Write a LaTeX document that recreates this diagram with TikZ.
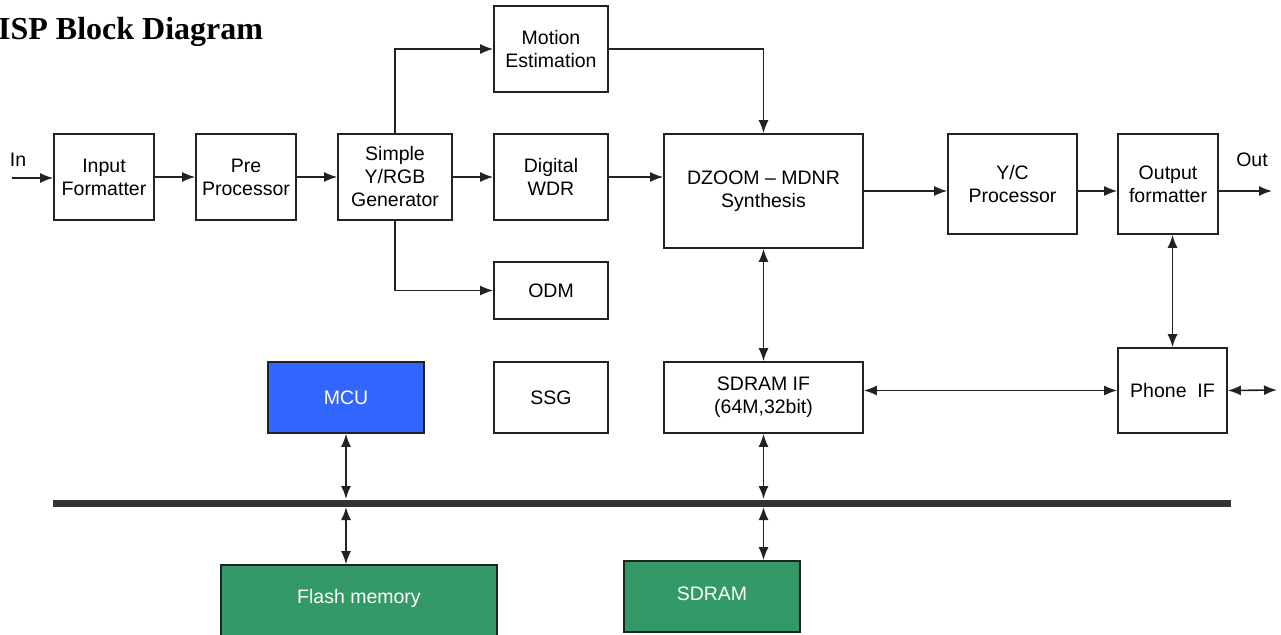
\documentclass[tikz,border=0pt]{standalone}
\usepackage{fontspec}
\setmainfont{Liberation Sans}
\newfontfamily\titlefont{Liberation Serif}
\usepackage{tikz}
\usetikzlibrary{arrows.meta,calc}
\definecolor{boxline}{HTML}{222222}
\definecolor{mcublue}{HTML}{3366FF}
\definecolor{memgreen}{HTML}{339966}
\definecolor{busgray}{HTML}{333333}
\tikzset{
  blk/.style={draw=boxline, line width=1.6pt, inner sep=0pt, align=center, font=\fontsize{19.5}{23}\selectfont},
  lab/.style={inner sep=0pt, font=\fontsize{19.5}{23}\selectfont},
  link/.style={draw=boxline, line width=1.6pt, -{Latex[length=13pt,width=10pt]}},
  dlink/.style={draw=boxline, line width=1.6pt, {Latex[length=13pt,width=10pt]}-{Latex[length=13pt,width=10pt]}},
  busline/.style={draw=busgray, line width=7pt},
}

\begin{document}
\begin{tikzpicture}[x=1pt, y=-1pt]
\useasboundingbox (0,0) rectangle (1281,634);

\node[anchor=base west, inner sep=0pt, font={\titlefont\bfseries\fontsize{32}{36}\selectfont}] (title) at (-2,40) {ISP Block Diagram};

% video path
\node[blk, minimum width=100pt, minimum height=86pt] (fmt) at (104,177) {Input\\Formatter};
\node[blk, minimum width=100pt, minimum height=86pt] (pre) at (246,177) {Pre\\Processor};
\node[blk, minimum width=114pt, minimum height=86pt] (gen) at (395,177) {Simple\\Y/RGB\\Generator};
\node[blk, minimum width=114pt, minimum height=86pt] (me)  at (551,49)  {Motion\\Estimation};
\node[blk, minimum width=114pt, minimum height=86pt] (wdr) at (551,177) {Digital\\WDR};
\node[blk, minimum width=114pt, minimum height=57pt] (odm) at (551,290.5) {ODM};
\node[blk, minimum width=199pt, minimum height=114pt] (dz) at (763.5,191) {DZOOM – MDNR\\Synthesis};
\node[blk, minimum width=129pt, minimum height=100pt] (yc) at (1012.5,184) {Y/C\\Processor};
\node[blk, minimum width=100pt, minimum height=100pt] (of) at (1168,184) {Output\\formatter};

% interfaces
\node[blk, minimum width=199pt, minimum height=71pt] (sif) at (763.5,397.5) {SDRAM IF\\(64M,32bit)};
\node[blk, minimum width=109pt, minimum height=85pt] (pif) at (1172.5,390.5) {Phone\ \ IF};
\node[blk, minimum width=156pt, minimum height=71pt, fill=mcublue, text=white] (mcu) at (346,397.5) {MCU};
\node[blk, minimum width=114pt, minimum height=71pt] (ssg) at (551,397.5) {SSG};

% memories
\node[blk, minimum width=276pt, minimum height=80pt, fill=memgreen, text=white, text depth=18pt] (flash) at (359,605) {Flash memory};
\node[blk, minimum width=176pt, minimum height=71pt, fill=memgreen, text=white, text depth=6pt] (sdram) at (712,596.5) {SDRAM};

\node[lab] (in)  at (18,160)   {In};
\node[lab] (out) at (1252,160) {Out};

\coordinate (src) at (12,178);
\coordinate (dst) at (1272,191);
\coordinate (ext) at (1277,390);
\coordinate (busL) at (53,503);
\coordinate (busR) at (1231,503);

\draw[busline] (busL) -- (busR);

\draw[link] (src) -- (src -| fmt.west);
\draw[link] (fmt) -- (pre);
\draw[link] (pre) -- (gen);
\draw[link] (gen) -- (wdr);
\draw[link] (gen.north) |- (me.west);
\draw[link] (gen.south) |- (odm.west);
\draw[link] (me.east) -| (dz.north);
\draw[link] (wdr.east) -- (wdr.east -| dz.west);
\draw[link] (dz.east) -- (dz.east -| yc.west);
\draw[link] (dz.east -| yc.east) -- (dz.east -| of.west);
\draw[link] (dst -| of.east) -- (dst);

\draw[dlink] (dz.south) -- (sif.north);
\draw[dlink] (pif.north |- of.south) -- (pif.north);
\draw[dlink] (pif.west -| sif.east) -- (pif.west);
\draw[dlink] (pif.east) -- (ext);

% bus taps
\draw[dlink, shorten >=4pt] (mcu.south) -- (mcu.south |- busL);
\draw[dlink, shorten <=4pt] (mcu.south |- busL) -- (mcu.south |- flash.north);
\draw[dlink, shorten >=4pt] (sif.south) -- (sif.south |- busL);
\draw[dlink, shorten <=4pt] (sif.south |- busL) -- (sif.south |- sdram.north);
\end{tikzpicture}
\end{document}
